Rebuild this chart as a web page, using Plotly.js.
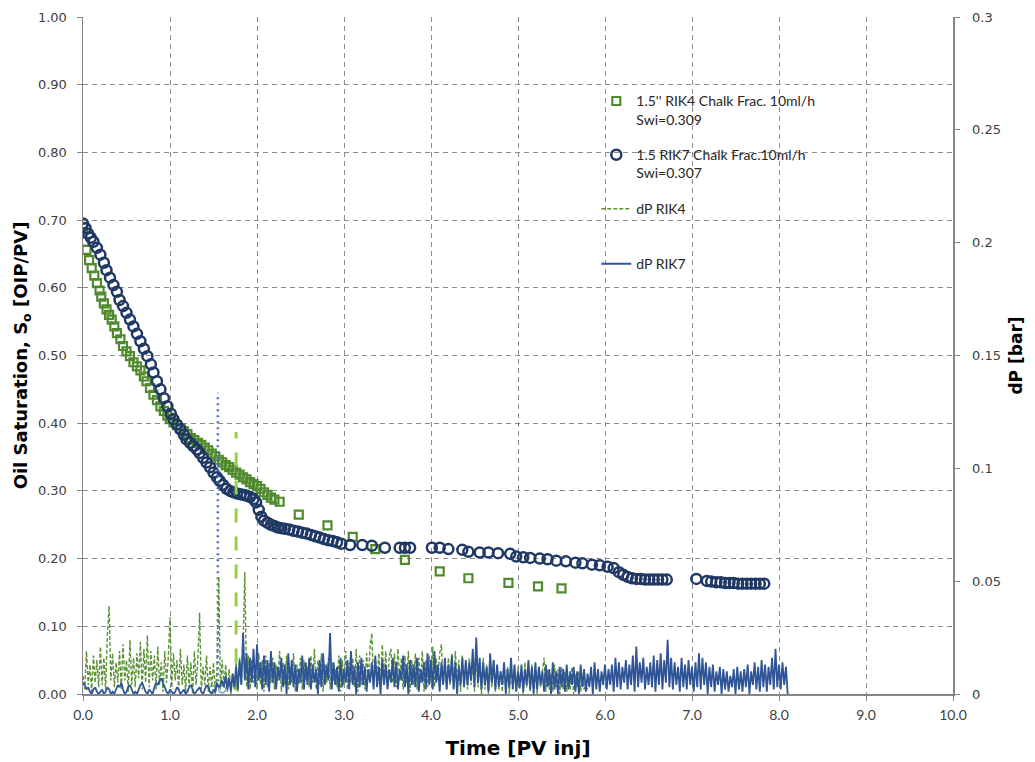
<!DOCTYPE html>
<html><head><meta charset="utf-8">
<script src="https://cdn.plot.ly/plotly-3.0.1.min.js"></script>
<style>html,body{margin:0;padding:0;background:#fff}#chart{width:1035px;height:762px}</style>
</head><body><div id="chart"></div>
<script>
// ---- Oil saturation, RIK4 (squares) ----
const rik4Time = [
  0, 0.02, 0.04, 0.07, 0.10, 0.13, 0.16, 0.19, 0.21, 0.24,
  0.27, 0.30, 0.33, 0.36, 0.39, 0.43, 0.46, 0.50, 0.54, 0.58,
  0.62, 0.66, 0.70, 0.73, 0.77, 0.81, 0.85, 0.89, 0.93, 0.97,
  1.00, 1.04, 1.08, 1.12, 1.16, 1.20, 1.24, 1.28, 1.32, 1.36,
  1.40, 1.44, 1.48, 1.52, 1.56, 1.60, 1.64, 1.68, 1.72, 1.76,
  1.80, 1.84, 1.88, 1.92, 1.96, 2.00, 2.04, 2.08, 2.12, 2.16,
  2.20, 2.26, 2.48, 2.81, 3.10, 3.36, 3.70, 4.10, 4.43, 4.89,
  5.23, 5.50];
const rik4So = [
  0.690, 0.668, 0.656, 0.641, 0.629, 0.618, 0.607, 0.596, 0.587, 0.577,
  0.568, 0.560, 0.553, 0.543, 0.533, 0.524, 0.514, 0.506, 0.499, 0.490,
  0.484, 0.478, 0.469, 0.462, 0.452, 0.442, 0.434, 0.425, 0.418, 0.411,
  0.406, 0.401, 0.397, 0.392, 0.388, 0.384, 0.378, 0.375, 0.371, 0.368,
  0.364, 0.360, 0.355, 0.351, 0.346, 0.342, 0.338, 0.335, 0.331, 0.327,
  0.324, 0.320, 0.317, 0.313, 0.310, 0.307, 0.303, 0.298, 0.294, 0.290,
  0.287, 0.284, 0.265, 0.249, 0.232, 0.214, 0.198, 0.181, 0.171, 0.164,
  0.159, 0.156];

// ---- Oil saturation, RIK7 (circles) ----
const rik7Time = [
  0, 0.03, 0.06, 0.09, 0.12, 0.16, 0.20, 0.24, 0.27, 0.31, 0.35,
  0.39, 0.42, 0.46, 0.50, 0.54, 0.58, 0.62, 0.66, 0.70, 0.74,
  0.78, 0.81, 0.85, 0.89, 0.93, 0.97, 1.01, 1.04, 1.08, 1.12,
  1.16, 1.19, 1.23, 1.27, 1.31, 1.34, 1.38, 1.42, 1.46, 1.50,
  1.54, 1.57, 1.61, 1.65, 1.69, 1.73, 1.77, 1.81, 1.85, 1.88,
  1.92, 1.96, 1.99, 2.02, 2.05, 2.08, 2.12, 2.16, 2.20, 2.24,
  2.28, 2.32, 2.37, 2.42, 2.47, 2.52, 2.57, 2.62, 2.67, 2.72,
  2.77, 2.82, 2.87, 2.92, 2.97, 3.07, 3.21, 3.32, 3.47,
  3.64, 3.70, 3.76, 4.01, 4.10, 4.20, 4.36, 4.43,
  4.56, 4.66, 4.77, 4.91, 4.98, 5.06, 5.14, 5.25, 5.34,
  5.44, 5.55, 5.66, 5.74, 5.85, 5.94, 6.03,
  6.10, 6.16, 6.21, 6.26, 6.31, 6.36, 6.41, 6.46, 6.51, 6.56, 6.61, 6.66, 6.71,
  7.05, 7.17, 7.22, 7.28, 7.33, 7.38, 7.43, 7.48, 7.53, 7.58, 7.63, 7.68, 7.73, 7.78, 7.83];
const rik7So = [
  0.695, 0.688, 0.680, 0.674, 0.668, 0.659, 0.649, 0.637, 0.626, 0.615, 0.604,
  0.594, 0.582, 0.573, 0.563, 0.553, 0.543, 0.532, 0.521, 0.510, 0.499,
  0.487, 0.475, 0.462, 0.450, 0.437, 0.425, 0.414, 0.406, 0.398, 0.391,
  0.383, 0.376, 0.371, 0.366, 0.361, 0.356, 0.349, 0.342, 0.335, 0.327,
  0.320, 0.315, 0.309, 0.303, 0.300, 0.298, 0.296, 0.295, 0.294, 0.293,
  0.291, 0.288, 0.283, 0.272, 0.262, 0.256, 0.253, 0.250, 0.248, 0.246,
  0.245, 0.244, 0.243, 0.241, 0.240, 0.238, 0.237, 0.235, 0.233, 0.231,
  0.229, 0.227, 0.226, 0.224, 0.222, 0.220, 0.220, 0.219, 0.216,
  0.216, 0.216, 0.216, 0.216, 0.216, 0.214, 0.213, 0.210,
  0.209, 0.209, 0.208, 0.207, 0.203, 0.202, 0.201, 0.200, 0.199,
  0.197, 0.196, 0.194, 0.193, 0.191, 0.190, 0.188,
  0.186, 0.180, 0.176, 0.173, 0.171, 0.170, 0.170, 0.169, 0.169, 0.169, 0.169, 0.169, 0.169,
  0.170, 0.167, 0.166, 0.165, 0.165, 0.164, 0.164, 0.164, 0.163, 0.163, 0.163, 0.163, 0.163, 0.163, 0.163];

// ---- Differential pressure (bar), sampled every dpStep PV from 0 ----
const dpStep = 0.02;
const dpRIK4 = [
  0.008, 0.002, 0.019, 0.004, 0.013, 0.001, 0.017, 0.005, 0.015, 0.003,
  0.021, 0.004, 0.016, 0.002, 0.026, 0.039, 0.006, 0.018, 0.003, 0.014,
  0.005, 0.019, 0.002, 0.022, 0.006, 0.015, 0.001, 0.024, 0.004, 0.016,
  0.003, 0.018, 0.007, 0.023, 0.002, 0.020, 0.005, 0.026, 0.003, 0.019,
  0.006, 0.017, 0.002, 0.021, 0.004, 0.014, 0.001, 0.019, 0.005, 0.016,
  0.034, 0.003, 0.018, 0.006, 0.015, 0.002, 0.020, 0.004, 0.013, 0.001,
  0.017, 0.003, 0.014, 0.000, 0.019, 0.004, 0.015, 0.036, 0.002, 0.012,
  0.004, 0.017, 0.001, 0.012, 0.003, 0.014, 0.000, 0.011, 0.052, 0.002,
  0.015, 0.003, 0.013, 0.001, 0.011, 0.000, 0.009, 0.002, 0.014, 0.001,
  0.016, 0.004, 0.021, 0.054, 0.003, 0.017, 0.002, 0.015, 0.005, 0.013,
  0.002, 0.018, 0.004, 0.015, 0.001, 0.017, 0.003, 0.014, 0.005, 0.016,
  0.002, 0.013, 0.006, 0.019, 0.001, 0.014, 0.004, 0.017, 0.002, 0.012,
  0.005, 0.018, 0.001, 0.013, 0.004, 0.016, 0.002, 0.015, 0.006, 0.012,
  0.003, 0.017, 0.005, 0.020, 0.002, 0.015, 0.004, 0.018, 0.001, 0.013,
  0.005, 0.016, 0.002, 0.014, 0.006, 0.011, 0.003, 0.017, 0.001, 0.015,
  0.004, 0.019, 0.002, 0.014, 0.005, 0.016, 0.003, 0.020, 0.001, 0.017,
  0.004, 0.015, 0.002, 0.018, 0.006, 0.021, 0.027, 0.003, 0.016, 0.005,
  0.018, 0.004, 0.022, 0.006, 0.019, 0.003, 0.017, 0.020, 0.005, 0.018,
  0.003, 0.020, 0.006, 0.016, 0.002, 0.017, 0.005, 0.019, 0.001, 0.015,
  0.004, 0.018, 0.002, 0.016, 0.005, 0.019, 0.001, 0.015, 0.003, 0.017,
  0.005, 0.021, 0.003, 0.016, 0.006, 0.018, 0.022, 0.004, 0.014, 0.002,
  0.016, 0.004, 0.018, 0.002, 0.019, 0.005, 0.015, 0.001, 0.017, 0.003,
  0.014, 0.002, 0.016, 0.004, 0.013, 0.001, 0.018, 0.003, 0.012, 0.000,
  0.016, 0.002, 0.013, 0.000, 0.011, 0.003, 0.015, 0.001, 0.012, 0.002,
  0.010, 0.001, 0.014, 0.002, 0.012, 0.000, 0.013, 0.003, 0.011, 0.001,
  0.012, 0.002, 0.010, 0.000, 0.014, 0.003, 0.011, 0.001, 0.013, 0.002,
  0.009, 0.000, 0.012, 0.003, 0.010, 0.016, 0.001, 0.011, 0.002, 0.009,
  0.001, 0.013, 0.003, 0.011, 0.000, 0.012, 0.002, 0.010, 0.001, 0.008,
  0.002, 0.012, 0.000, 0.009, 0.003, 0.010, 0.001, 0.007, 0.002, 0.006,
  0.002];
const dpRIK7 = [
  0.005, 0.004, 0.002, 0.003, 0.001, 0.000, 0.002, 0.003, 0.001, 0.000,
  0.001, 0.002, 0.000, 0.001, 0.003, 0.002, 0.000, 0.001, 0.000, 0.002,
  0.004, 0.003, 0.005, 0.002, 0.000, 0.001, 0.003, 0.004, 0.002, 0.000,
  0.001, 0.000, 0.002, 0.004, 0.005, 0.003, 0.001, 0.000, 0.002, 0.001,
  0.000, 0.003, 0.005, 0.004, 0.006, 0.007, 0.005, 0.003, 0.001, 0.000,
  0.002, 0.001, 0.000, 0.001, 0.003, 0.002, 0.000, 0.001, 0.002, 0.000,
  0.001, 0.003, 0.004, 0.002, 0.000, 0.001, 0.002, 0.003, 0.001, 0.000,
  0.002, 0.004, 0.003, 0.001, 0.000, 0.002, 0.001, 0.005, 0.003, 0.004,
  0.006, 0.003, 0.008, 0.002, 0.007, 0.001, 0.009, 0.003, 0.012, 0.002,
  0.015, 0.004, 0.027, 0.006, 0.018, 0.002, 0.016, 0.005, 0.020, 0.003,
  0.022, 0.006, 0.014, 0.002, 0.017, 0.004, 0.015, 0.001, 0.019, 0.005,
  0.014, 0.002, 0.012, 0.006, 0.016, 0.003, 0.013, 0.000, 0.018, 0.004,
  0.015, 0.003, 0.013, 0.001, 0.011, 0.005, 0.017, 0.002, 0.014, 0.004,
  0.016, 0.002, 0.013, 0.005, 0.011, 0.000, 0.015, 0.003, 0.018, 0.004,
  0.013, 0.006, 0.027, 0.002, 0.014, 0.004, 0.012, 0.001, 0.016, 0.003,
  0.011, 0.005, 0.015, 0.002, 0.019, 0.004, 0.012, 0.000, 0.014, 0.003,
  0.016, 0.004, 0.012, 0.001, 0.011, 0.005, 0.014, 0.002, 0.017, 0.003,
  0.012, 0.000, 0.015, 0.004, 0.013, 0.002, 0.011, 0.005, 0.016, 0.003,
  0.014, 0.002, 0.011, 0.006, 0.017, 0.003, 0.013, 0.000, 0.015, 0.004,
  0.013, 0.003, 0.016, 0.001, 0.011, 0.005, 0.014, 0.002, 0.018, 0.004,
  0.015, 0.002, 0.019, 0.005, 0.013, 0.001, 0.014, 0.004, 0.016, 0.002,
  0.013, 0.005, 0.017, 0.002, 0.014, 0.000, 0.012, 0.004, 0.016, 0.003,
  0.015, 0.004, 0.014, 0.006, 0.020, 0.003, 0.025, 0.005, 0.016, 0.002,
  0.014, 0.004, 0.012, 0.001, 0.018, 0.005, 0.015, 0.002, 0.013, 0.003,
  0.010, 0.004, 0.014, 0.000, 0.011, 0.003, 0.016, 0.002, 0.013, 0.001,
  0.010, 0.003, 0.013, 0.001, 0.011, 0.004, 0.015, 0.002, 0.012, 0.000,
  0.014, 0.002, 0.012, 0.004, 0.010, 0.001, 0.013, 0.003, 0.011, 0.000,
  0.014, 0.002, 0.010, 0.000, 0.012, 0.003, 0.011, 0.001, 0.013, 0.002,
  0.010, 0.004, 0.012, 0.001, 0.010, 0.000, 0.013, 0.003, 0.011, 0.001,
  0.009, 0.003, 0.012, 0.000, 0.014, 0.002, 0.011, 0.001, 0.010, 0.004,
  0.013, 0.002, 0.011, 0.004, 0.013, 0.001, 0.016, 0.003, 0.014, 0.002,
  0.012, 0.005, 0.015, 0.002, 0.013, 0.004, 0.017, 0.001, 0.021, 0.003,
  0.014, 0.005, 0.016, 0.002, 0.012, 0.004, 0.014, 0.003, 0.017, 0.001,
  0.015, 0.004, 0.018, 0.002, 0.015, 0.005, 0.024, 0.003, 0.016, 0.002,
  0.014, 0.004, 0.012, 0.001, 0.016, 0.003, 0.013, 0.002, 0.015, 0.004,
  0.012, 0.001, 0.014, 0.003, 0.018, 0.002, 0.016, 0.004, 0.014, 0.000,
  0.012, 0.003, 0.013, 0.001, 0.010, 0.004, 0.012, 0.000, 0.011, 0.002,
  0.010, 0.001, 0.008, 0.003, 0.011, 0.000, 0.012, 0.002, 0.010, 0.001,
  0.011, 0.003, 0.013, 0.000, 0.010, 0.004, 0.014, 0.002, 0.012, 0.001,
  0.015, 0.003, 0.013, 0.001, 0.012, 0.004, 0.016, 0.002, 0.020, 0.003,
  0.013, 0.002, 0.014, 0.004, 0.012, 0.000];

// ---- Breakthrough marker lines and base markers (left axis units) ----
const btRIK7Time = [1.55, 1.55];
const btRIK7So   = [0.010, 0.445];
const btRIK4Time = [1.76, 1.76];
const btRIK4So   = [0.005, 0.387];
const baseMarkTime = [1.49, 1.60, 1.49, 1.60];
const baseMarkSo   = [0.007, 0.007, -0.006, -0.006];

// ---- Labels ----
const nameRIK4 = "1.5'' RIK4 Chalk Frac. 10ml/h<br>Swi=0.309";
const nameRIK7 = "1.5 RIK7 Chalk Frac.10ml/h<br>Swi=0.307";
const nameDP4 = "dP RIK4";
const nameDP7 = "dP RIK7";
const rightTickVals = [0, 0.05, 0.1, 0.15, 0.2, 0.25, 0.3];
const rightTickText = ["0", "0.05", "0.1", "0.15", "0.2", "0.25", "0.3"];

const tDP4 = dpRIK4.map((_, i) => +(i * dpStep).toFixed(3));
const tDP7 = dpRIK7.map((_, i) => +(i * dpStep).toFixed(3));

const traces = [
  {x: rik4Time, y: rik4So, type: 'scatter', mode: 'markers', name: nameRIK4, legend: 'legend',
   marker: {symbol: 'square-open', size: 8, color: '#4f8a2d', line: {width: 2.2}}},
  {x: rik7Time, y: rik7So, type: 'scatter', mode: 'markers', name: nameRIK7, legend: 'legend2',
   marker: {symbol: 'circle-open', size: 10, color: '#1f3864', line: {width: 2.5}}},
  {x: btRIK7Time, y: btRIK7So, type: 'scatter', mode: 'lines', showlegend: false,
   line: {color: '#4472c4', width: 2.5, dash: '2px,4px'}},
  {x: btRIK4Time, y: btRIK4So, type: 'scatter', mode: 'lines', showlegend: false,
   line: {color: '#92d050', width: 3, dash: '14px,14px'}},
  {x: baseMarkTime, y: baseMarkSo, type: 'scatter', mode: 'markers', showlegend: false, cliponaxis: false,
   marker: {symbol: 'circle-open', size: 7, color: '#7f9fc4', line: {width: 1.5}}},
  {x: tDP4, y: dpRIK4, yaxis: 'y2', type: 'scatter', mode: 'lines', name: nameDP4, legend: 'legend3',
   line: {color: '#5b9236', width: 1.4, dash: '4px,2px'}},
  {x: tDP7, y: dpRIK7, yaxis: 'y2', type: 'scatter', mode: 'lines', name: nameDP7, legend: 'legend4',
   line: {color: '#2f5597', width: 1.8}}
];

const legFont = {family: 'Lato, Calibri, sans-serif', size: 14, color: '#262626'};
function leg(x, y) {
  return {x: x, y: y, xanchor: 'left', yanchor: 'top', bgcolor: 'rgba(0,0,0,0)',
          borderwidth: 0, font: legFont, valign: 'top', itemclick: false};
}

const axisCol = '#868686';
const tickFont = {family: 'DejaVu Sans, Verdana, sans-serif', size: 13, color: '#404040'};
const titleFamily = 'DejaVu Sans, Verdana, sans-serif';

const layout = {
  width: 1035, height: 762,
  margin: {l: 83, r: 82, t: 17, b: 68, pad: 0},
  paper_bgcolor: '#ffffff', plot_bgcolor: '#ffffff',
  showlegend: true,
  legend: leg(0.59, 0.899),
  legend2: leg(0.59, 0.8196),
  legend3: leg(0.59, 0.7398),
  legend4: leg(0.59, 0.6586),
  xaxis: {
    range: [0, 10], dtick: 1, tick0: 0, tickformat: '.1f',
    showgrid: true, gridcolor: '#8c8c8c', gridwidth: 1, griddash: '5px,4px',
    showline: true, linecolor: axisCol, linewidth: 1.5, zeroline: false,
    ticks: 'outside', ticklen: 5, tickcolor: axisCol, tickwidth: 1, ticklabelstandoff: 3,
    tickfont: {family: 'Lato, Calibri, sans-serif', size: 14, color: '#404040'},
    title: {text: '<b>Time [PV inj]</b>', font: {family: titleFamily, size: 20, color: '#000'}, standoff: 18},
    automargin: false
  },
  yaxis: {
    range: [0, 1], dtick: 0.1, tick0: 0, tickformat: '.2f',
    showgrid: true, gridcolor: '#8c8c8c', gridwidth: 1, griddash: '5px,4px',
    showline: true, linecolor: axisCol, linewidth: 1.5, zeroline: false,
    ticks: 'outside', ticklen: 5, tickcolor: axisCol, tickwidth: 1, ticklabelstandoff: 7,
    tickfont: tickFont,
    title: {text: '<b>Oil Saturation, S<sub>o</sub> [OIP/PV]</b>', font: {family: titleFamily, size: 18, color: '#000'}, standoff: 5},
    automargin: false
  },
  yaxis2: {
    overlaying: 'y', side: 'right', range: [0, 0.3],
    tickvals: rightTickVals, ticktext: rightTickText,
    showgrid: false, zeroline: false,
    showline: true, linecolor: axisCol, linewidth: 1.5,
    ticks: 'outside', ticklen: 5, tickcolor: axisCol, tickwidth: 1, ticklabelstandoff: 10,
    tickfont: tickFont,
    title: {text: '<b>dP [bar]</b>', font: {family: titleFamily, size: 17, color: '#000'}, standoff: 10},
    automargin: false
  }
};

Plotly.newPlot('chart', traces, layout, {staticPlot: true, displayModeBar: false});
</script></body></html>
